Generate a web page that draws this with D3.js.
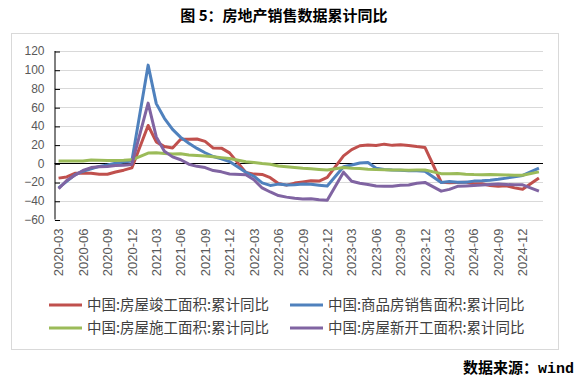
<!DOCTYPE html>
<html>
<head>
<meta charset="utf-8">
<script src="https://cdn.jsdelivr.net/npm/d3@7"></script>
<style>
  html, body { margin: 0; padding: 0; background: #fff; }
  svg { display: block; }
</style>
</head>
<body>
<svg id="chart" width="580" height="383"></svg>
<script>
// ---------- DATA ----------
const categories = [
  "2020-03","2020-04","2020-05","2020-06","2020-07","2020-08","2020-09","2020-10","2020-11","2020-12",
  "2021-01","2021-02","2021-03","2021-04","2021-05","2021-06","2021-07","2021-08","2021-09","2021-10","2021-11","2021-12",
  "2022-01","2022-02","2022-03","2022-04","2022-05","2022-06","2022-07","2022-08","2022-09","2022-10","2022-11","2022-12",
  "2023-01","2023-02","2023-03","2023-04","2023-05","2023-06","2023-07","2023-08","2023-09","2023-10","2023-11","2023-12",
  "2024-01","2024-02","2024-03","2024-04","2024-05","2024-06","2024-07","2024-08","2024-09","2024-10","2024-11","2024-12",
  "2025-01","2025-02"
];
const tickLabels = [
  "2020-03","2020-06","2020-09","2020-12","2021-03","2021-06","2021-09","2021-12",
  "2022-03","2022-06","2022-09","2022-12","2023-03","2023-06","2023-09","2023-12",
  "2024-03","2024-06","2024-09","2024-12"
];
const yTicks = [-60, -40, -20, 0, 20, 40, 60, 80, 100, 120];

// months with data (Jan–Feb reported together, so no January points)
const dataMonths = [
  "2020-03","2020-04","2020-05","2020-06","2020-07","2020-08","2020-09","2020-10","2020-11","2020-12",
  "2021-02","2021-03","2021-04","2021-05","2021-06","2021-07","2021-08","2021-09","2021-10","2021-11","2021-12",
  "2022-02","2022-03","2022-04","2022-05","2022-06","2022-07","2022-08","2022-09","2022-10","2022-11","2022-12",
  "2023-02","2023-03","2023-04","2023-05","2023-06","2023-07","2023-08","2023-09","2023-10","2023-11","2023-12",
  "2024-02","2024-03","2024-04","2024-05","2024-06","2024-07","2024-08","2024-09","2024-10","2024-11","2024-12",
  "2025-02"
];
const completion = [
  -15.8,-14.5,-10.6,-10.5,-10.5,-11.6,-11.6,-9.2,-7.3,-4.9,
  40.4,22.9,17.9,16.4,25.7,25.7,26.0,23.4,16.3,16.2,11.2,
  -9.8,-11.5,-11.9,-15.3,-21.5,-23.3,-21.1,-19.9,-18.7,-19.0,-15.0,
  8.0,14.7,18.8,19.6,19.0,20.5,19.2,19.8,19.0,17.9,17.0,
  -20.2,-20.7,-20.4,-20.1,-21.8,-21.8,-23.6,-24.4,-23.9,-26.2,-27.7,
  -15.6
];
const sales = [
  -26.3,-19.3,-12.3,-8.4,-5.8,-3.3,-1.8,0.0,1.3,2.6,
  104.9,63.8,48.1,36.3,27.7,21.5,15.9,11.3,7.3,4.8,1.9,
  -9.6,-13.8,-20.9,-23.6,-22.2,-23.1,-23.0,-22.2,-22.3,-23.3,-24.3,
  -3.6,-1.8,0.4,0.9,-5.3,-6.5,-7.1,-7.5,-7.8,-8.0,-8.5,
  -20.5,-19.4,-20.2,-20.3,-19.0,-18.6,-18.0,-17.1,-15.8,-14.3,-12.9,
  -5.1
];
const construction = [
  2.6,2.5,2.6,2.6,3.6,3.3,3.1,3.0,3.2,3.7,
  11.0,11.2,10.5,10.1,10.2,9.0,8.4,7.9,7.1,6.1,5.2,
  1.6,1.0,-0.2,-1.0,-2.8,-3.7,-4.5,-5.3,-5.7,-6.5,-7.2,
  -4.4,-5.2,-5.6,-6.2,-6.6,-6.8,-7.1,-7.1,-7.3,-7.2,-7.2,
  -11.0,-11.1,-10.8,-11.6,-12.0,-12.1,-12.0,-12.2,-12.4,-12.7,-12.7,
  -9.1
];
const newStarts = [
  -27.2,-18.4,-12.8,-7.6,-4.5,-3.6,-3.4,-2.3,-2.0,-1.2,
  64.3,28.2,12.8,6.9,3.8,-0.9,-3.2,-4.5,-7.7,-9.1,-11.4,
  -12.2,-17.5,-26.3,-30.6,-34.4,-36.1,-37.2,-38.0,-37.8,-38.9,-39.4,
  -9.4,-19.2,-21.2,-22.6,-24.3,-24.5,-24.4,-23.4,-23.2,-21.2,-20.4,
  -29.7,-27.8,-24.6,-24.2,-23.7,-23.2,-22.5,-22.2,-22.6,-23.0,-23.0,
  -29.6
];
const seriesNames = [
  "中国:房屋竣工面积:累计同比",
  "中国:商品房销售面积:累计同比",
  "中国:房屋施工面积:累计同比",
  "中国:房屋新开工面积:累计同比"
];
const seriesColors = ["#C0504D", "#4F81BD", "#9BBB59", "#8064A2"];
const seriesValues = [completion, sales, construction, newStarts];

// ---------- LAYOUT ----------
const svg = d3.select("#chart");
const plot = { left: 54.5, right: 543, top: 51, bottom: 219.5 };
const latin = "'Liberation Sans', Arial, sans-serif";
const cjk = "'Noto Sans CJK SC', 'Liberation Sans', sans-serif";

svg.append("rect").attr("width", 580).attr("height", 383).attr("fill", "#fff");

// title
svg.append("text")
  .attr("x", 284).attr("y", 21)
  .attr("text-anchor", "middle")
  .attr("font-family", cjk).attr("font-weight", "bold").attr("font-size", 15)
  .attr("fill", "#000")
  .text("图 5：房地产销售数据累计同比");

// outer frame
svg.append("rect")
  .attr("x", 11.5).attr("y", 33.5).attr("width", 547).attr("height", 316)
  .attr("fill", "none").attr("stroke", "#d9d9d9").attr("stroke-width", 1);

const x = d3.scaleBand().domain(categories).range([plot.left, plot.right]);
const y = d3.scaleLinear().domain([-60, 120]).range([plot.bottom, plot.top]);
const cx = m => x(m) + x.bandwidth() / 2;

// gridlines
svg.append("g").selectAll("line").data(yTicks.filter(v => v !== 0)).join("line")
  .attr("x1", plot.left).attr("x2", plot.right)
  .attr("y1", d => Math.round(y(d)) + 0.5).attr("y2", d => Math.round(y(d)) + 0.5)
  .attr("stroke", "#d9d9d9").attr("stroke-width", 1);

// y axis
const yAxis = d3.axisRight(y).tickValues(yTicks).tickSize(5).tickFormat(d3.format("d"));
const yg = svg.append("g").attr("transform", `translate(${plot.left},0)`).call(yAxis);
yg.select(".domain").attr("stroke", "#000").attr("d", `M0.5,${y(120)}V${y(-60)}`);
yg.selectAll(".tick line").attr("stroke", "#000")
  .attr("transform", function() { return "translate(0.5,0.5)"; });
yg.selectAll(".tick text")
  .attr("x", -10).attr("text-anchor", "end")
  .attr("font-family", latin).attr("font-size", 12).attr("fill", "#595959");

// zero line (category axis)
svg.append("line")
  .attr("x1", plot.left).attr("x2", plot.right)
  .attr("y1", Math.round(y(0)) + 0.5).attr("y2", Math.round(y(0)) + 0.5)
  .attr("stroke", "#000").attr("stroke-width", 1);

// x labels
const xAxis = d3.axisBottom(x).tickValues(tickLabels).tickSize(0);
const xg = svg.append("g").attr("transform", `translate(0,${plot.bottom})`).call(xAxis);
xg.select(".domain").remove();
xg.selectAll(".tick text")
  .attr("font-family", latin).attr("font-size", 13).attr("fill", "#595959")
  .attr("text-anchor", "end")
  .attr("transform", "rotate(-90)")
  .attr("x", -9).attr("y", 0).attr("dy", "0.36em");

// lines
const line = d3.line().x(d => cx(d.m)).y(d => y(d.v));
seriesValues.forEach((vals, i) => {
  const pts = dataMonths.map((m, j) => ({ m, v: vals[j] }));
  svg.append("path").datum(pts)
    .attr("d", line)
    .attr("fill", "none")
    .attr("stroke", seriesColors[i])
    .attr("stroke-width", 3)
    .attr("stroke-linejoin", "round");
});

// legend
const legendPos = [
  { x: 49, y: 305 }, { x: 290, y: 305 },
  { x: 49, y: 328 }, { x: 290, y: 328 }
];
const lg = svg.append("g").selectAll("g").data(seriesNames).join("g")
  .attr("transform", (d, i) => `translate(${legendPos[i].x},${legendPos[i].y})`);
lg.append("line").attr("x1", 0).attr("x2", 33).attr("y1", 0).attr("y2", 0)
  .attr("stroke", (d, i) => seriesColors[i]).attr("stroke-width", 3);
lg.append("text").attr("x", 38).attr("y", 0).attr("dy", "0.36em")
  .attr("font-family", cjk).attr("font-size", 14.5).attr("fill", "#404040")
  .text(d => d);

// source
const src = svg.append("text")
  .attr("x", 574).attr("y", 373).attr("text-anchor", "end")
  .attr("font-weight", "bold").attr("font-size", 15).attr("fill", "#000");
src.append("tspan").attr("font-family", cjk).text("数据来源：");
src.append("tspan").attr("font-family", "'Liberation Mono', 'DejaVu Sans Mono', monospace").text("wind");
</script>
</body>
</html>
